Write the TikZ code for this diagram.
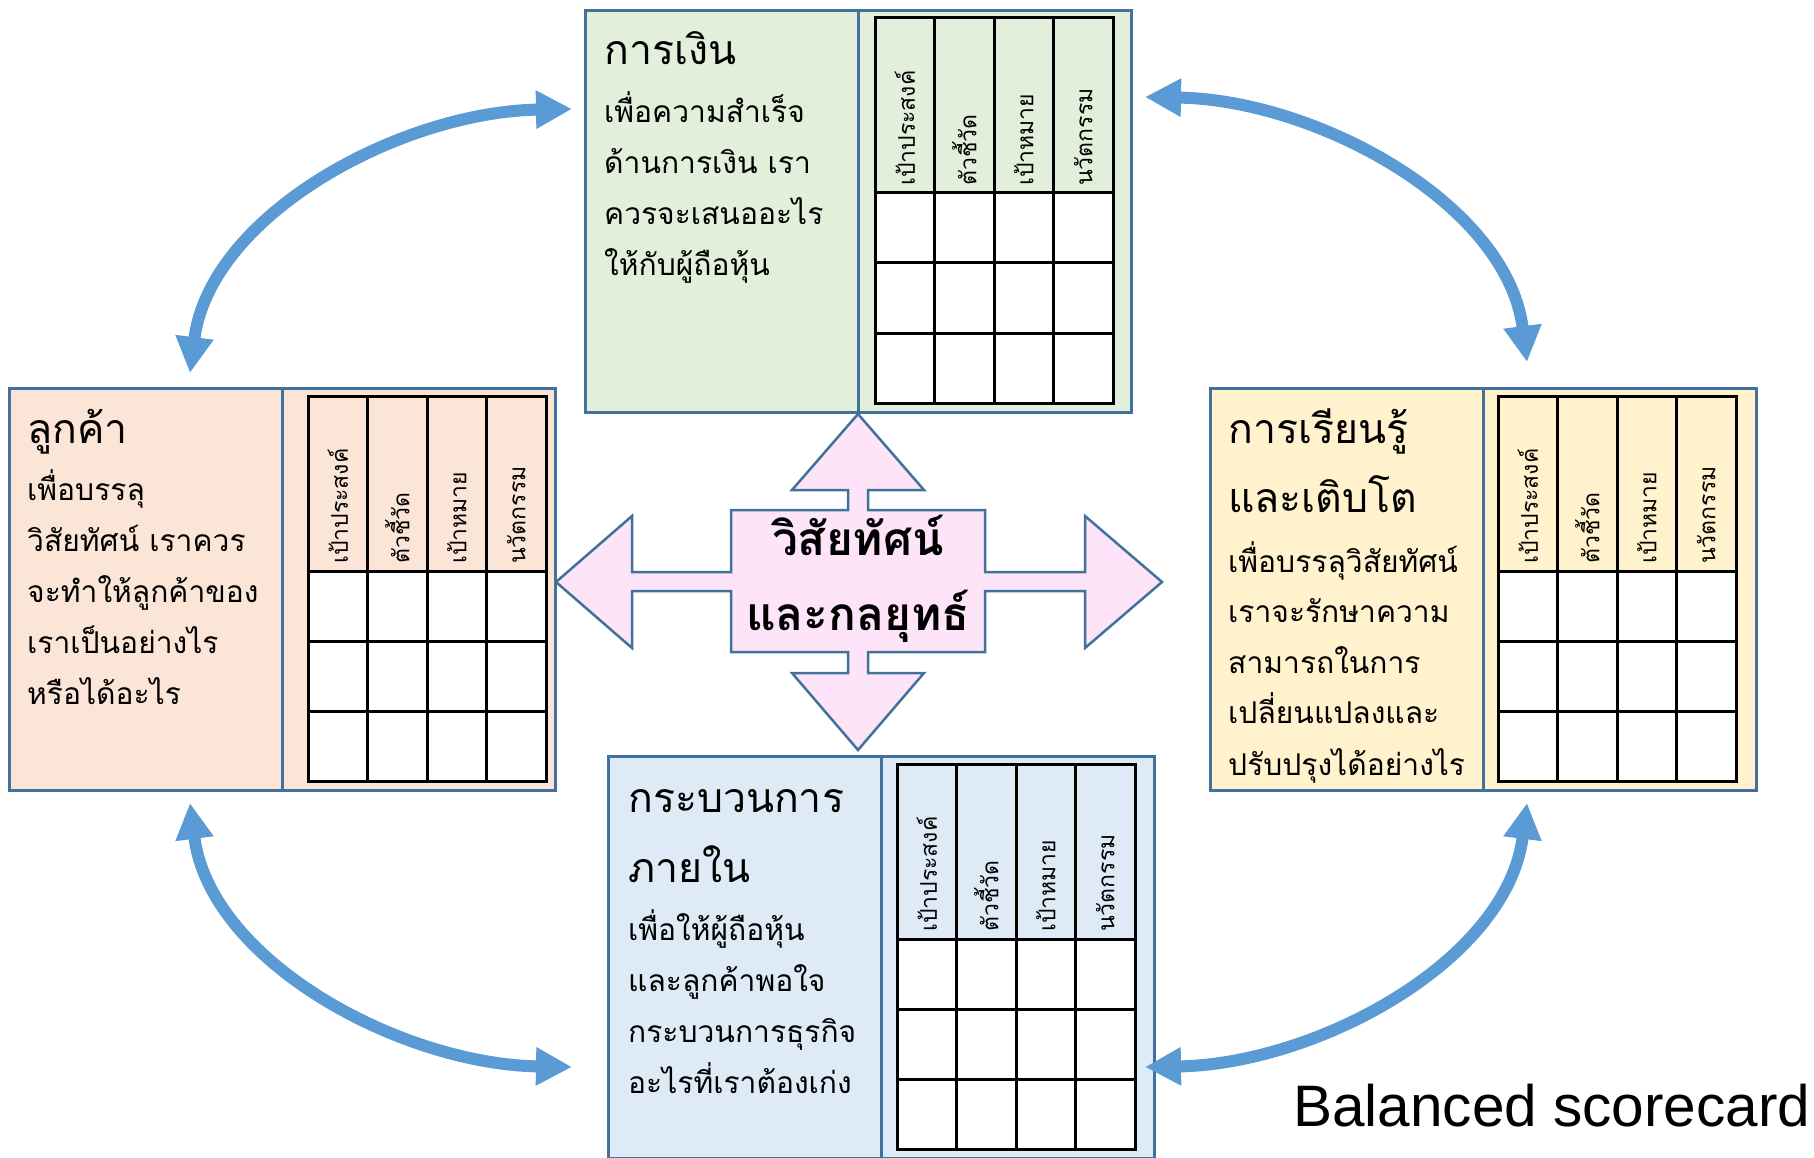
\documentclass[tikz,border=0pt]{standalone}
\usepackage{fontspec}
\usetikzlibrary{arrows.meta}
\newfontfamily\thaifont[Script=Thai]{Loma}
\setsansfont{Liberation Sans}
\definecolor{greenF}{HTML}{E2EFDA}
\definecolor{peachF}{HTML}{FBE5D6}
\definecolor{yellowF}{HTML}{FFF2CC}
\definecolor{blueF}{HTML}{DEEBF7}
\definecolor{pinkF}{HTML}{FDE4F8}
\definecolor{edgeC}{HTML}{41719C}
\definecolor{arrC}{HTML}{5B9BD5}
\tikzset{
  boxhalf/.style={draw=edgeC, line width=3pt, anchor=north west, minimum width=273pt, minimum height=402pt, inner sep=0pt},
  tbl/.style={draw=black, line width=3pt},
  hdr/.style={font=\thaifont\fontsize{23}{26}\selectfont, rotate=90, anchor=west, inner sep=0pt},
  ttl/.style={font=\thaifont\fontsize{41}{46}\selectfont, anchor=base west, inner sep=0pt},
  body/.style={font=\thaifont\fontsize{30}{36}\selectfont, anchor=base west, inner sep=0pt},
  ctr/.style={font=\thaifont\bfseries\fontsize{46}{52}\selectfont, anchor=base, inner sep=0pt},
  link/.style={draw=arrC, line width=12pt, {Triangle[length=36pt,width=36pt]}-{Triangle[length=36pt,width=36pt]}},
}
\newcommand\sctable[4]{%
  \fill[#3] (#1,#2) rectangle ++(238,175);
  \fill[white] (#1,#2+175) rectangle ++(238,210);
  \foreach \i in {1,2,3} \draw[tbl] (#1+59.5*\i,#2) -- ++(0,385);
  \draw[tbl] (#1,#2+175) -- ++(238,0);
  \draw[tbl] (#1,#2+245) -- ++(238,0);
  \draw[tbl] (#1,#2+315) -- ++(238,0);
  \draw[tbl] (#1,#2) rectangle ++(238,385);
  \node[hdr] (#4h1) at (#1+29.75,#2+168) {เป้าประสงค์};
  \node[hdr] (#4h2) at (#1+89.25,#2+168) {ตัวชี้วัด};
  \node[hdr] (#4h3) at (#1+148.75,#2+168) {เป้าหมาย};
  \node[hdr] (#4h4) at (#1+208.25,#2+168) {นวัตกรรม};
}
\begin{document}
\begin{tikzpicture}[x=1pt,y=-1pt]
\useasboundingbox (0,0) rectangle (1814,1158);
\fill[white] (0,0) rectangle (1814,1158);

% ---- boxes ----
\node[boxhalf, fill=greenF] (finL) at (584,9) {};
\node[boxhalf, fill=greenF] (finR) at (857,9) {};
\node[boxhalf, fill=peachF] (cusL) at (8,387) {};
\node[boxhalf, fill=peachF] (cusR) at (281,387) {};
\node[boxhalf, fill=yellowF] (lrnL) at (1209,387) {};
\node[boxhalf, fill=yellowF] (lrnR) at (1482,387) {};
\node[boxhalf, fill=blueF] (intL) at (607,755) {};
\node[boxhalf, fill=blueF] (intR) at (880,755) {};

% ---- tables ----
\sctable{875}{18}{greenF}{fin}
\sctable{308}{396}{peachF}{cus}
\sctable{1498}{396}{yellowF}{lrn}
\sctable{897}{764}{blueF}{int}

% ---- texts: finance ----
\node[ttl] (finT) at (604,65) {การเงิน};
\node[body] (fin1) at (604,123) {เพื่อความสำเร็จ};
\node[body] (fin2) at (604,174) {ด้านการเงิน เรา};
\node[body] (fin3) at (604,225) {ควรจะเสนออะไร};
\node[body] (fin4) at (604,276) {ให้กับผู้ถือหุ้น};

% ---- texts: customer ----
\node[ttl] (cusT) at (27,443) {ลูกค้า};
\node[body] (cus1) at (27,500) {เพื่อบรรลุ};
\node[body] (cus2) at (27,551) {วิสัยทัศน์ เราควร};
\node[body] (cus3) at (27,602) {จะทำให้ลูกค้าของ};
\node[body] (cus4) at (27,653) {เราเป็นอย่างไร};
\node[body] (cus5) at (27,704) {หรือได้อะไร};

% ---- texts: learning ----
\node[ttl] (lrnT1) at (1228,443) {การเรียนรู้};
\node[ttl] (lrnT2) at (1228,512) {และเติบโต};
\node[body] (lrn1) at (1228,572) {เพื่อบรรลุวิสัยทัศน์};
\node[body] (lrn2) at (1228,622) {เราจะรักษาความ};
\node[body] (lrn3) at (1228,673) {สามารถในการ};
\node[body] (lrn4) at (1228,723) {เปลี่ยนแปลงและ};
\node[body] (lrn5) at (1228,775) {ปรับปรุงได้อย่างไร};

% ---- texts: internal ----
\node[ttl] (intT1) at (628,812) {กระบวนการ};
\node[ttl] (intT2) at (628,882) {ภายใน};
\node[body] (int1) at (628,940) {เพื่อให้ผู้ถือหุ้น};
\node[body] (int2) at (628,991) {และลูกค้าพอใจ};
\node[body] (int3) at (628,1042) {กระบวนการธุรกิจ};
\node[body] (int4) at (628,1093) {อะไรที่เราต้องเก่ง};

% ---- central four-way arrow ----
\draw[draw=edgeC, line width=2.5pt, fill=pinkF, line join=miter]
  (858,414) -- (924,490) -- (868,490) -- (868,510) -- (985,510) -- (985,572)
  -- (1085,572) -- (1085,516) -- (1162,582) -- (1085,648) -- (1085,591)
  -- (985,591) -- (985,652) -- (868,652) -- (868,673) -- (924,673)
  -- (858,750) -- (792,673) -- (848,673) -- (848,652) -- (731,652)
  -- (731,591) -- (632,591) -- (632,648) -- (556,582) -- (632,516)
  -- (632,572) -- (731,572) -- (731,510) -- (848,510) -- (848,490)
  -- (792,490) -- cycle;
\node[ctr] (vis1) at (858,555) {วิสัยทัศน์};
\node[ctr] (vis2) at (858,630) {และกลยุทธ์};

% ---- curved connectors ----
\coordinate (tlA) at (572,109);
\coordinate (tlB) at (190,373);
\coordinate (trA) at (1145,97);
\coordinate (trB) at (1527,362);
\coordinate (blA) at (190,803);
\coordinate (blB) at (572,1067);
\coordinate (brA) at (1527,803);
\coordinate (brB) at (1145,1067);
\draw[link] (tlA) .. controls (400,112) and (210,215) .. (tlB);
\draw[link] (trA) .. controls (1317,100) and (1507,204) .. (trB);
\draw[link] (blA) .. controls (210,961) and (400,1064) .. (blB);
\draw[link] (brA) .. controls (1507,961) and (1317,1064) .. (brB);

% ---- caption ----
\node[font=\sffamily\fontsize{58.5}{64}\selectfont, anchor=base west, inner sep=0pt] (cap) at (1293,1126) {Balanced scorecard};
\end{tikzpicture}
\end{document}
